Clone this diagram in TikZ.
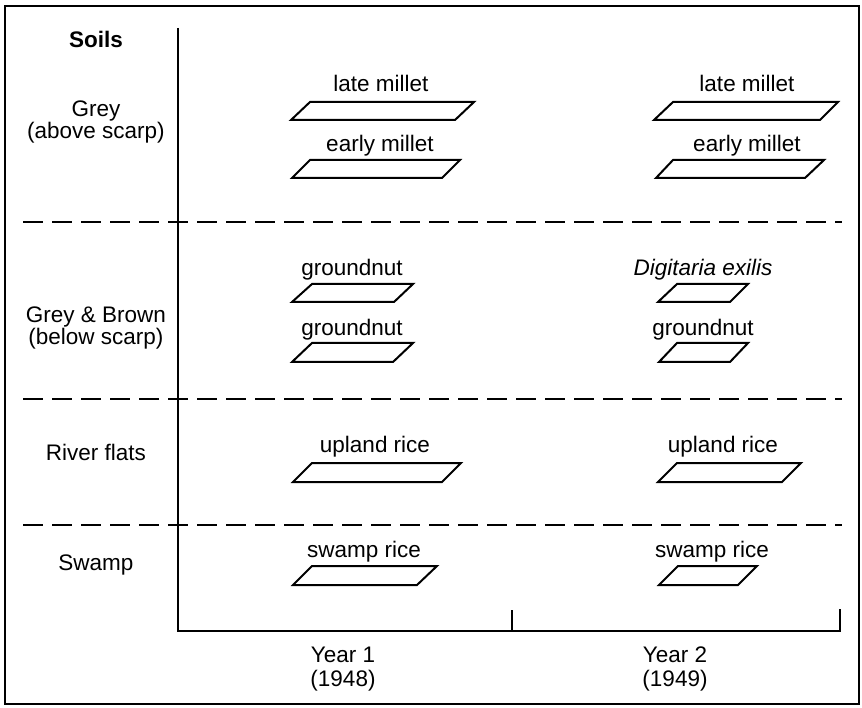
\documentclass[tikz,border=0pt]{standalone}
\usepackage{fontspec}
\setmainfont{Liberation Sans}
\begin{document}
\begin{tikzpicture}[x=1pt,y=-1pt,
  lbl/.style={anchor=base,inner sep=0pt,font=\fontsize{22.5}{26}\selectfont},
  field/.style={draw=black,line width=2pt,line join=miter},
  axisline/.style={draw=black,line width=2.4pt},
  sep/.style={draw=black,line width=1.5pt,dash pattern=on 20pt off 9pt}]
\useasboundingbox (0,0) rectangle (862,708);
% frame
\draw[line width=2pt] (5,6) rectangle (859,704);
% axes
\coordinate (atop) at (178,28);
\coordinate (aorg) at (178,631);
\coordinate (amid) at (512,631);
\coordinate (amidt) at (512,610);
\coordinate (aend) at (840,631);
\coordinate (aendt) at (840,609);
\draw[axisline] (atop) -- (aorg) -- (aend) -- (aendt);
\draw[axisline] (amid) -- (amidt);
% dashed separators
\foreach \yy/\nm in {222/sa,399/sb,525/sc}{
  \coordinate (\nm l) at (23,\yy);
  \coordinate (\nm r) at (842,\yy);
  \draw[sep] (\nm l) -- (\nm r);
}
% soil labels
\node[lbl,font=\fontsize{22.5}{26}\selectfont\bfseries] (soils) at (96,48) {Soils};
\node[lbl] (grey1) at (96,117) {Grey};
\node[lbl] (grey2) at (96,139) {(above scarp)};
\node[lbl] (gb1) at (96,323) {Grey \& Brown};
\node[lbl] (gb2) at (96,345) {(below scarp)};
\node[lbl] (river) at (96,460) {River flats};
\node[lbl] (swamp) at (96,570) {Swamp};
% year labels
\node[lbl] (y1a) at (343,662) {Year 1};
\node[lbl] (y1b) at (343,686) {(1948)};
\node[lbl] (y2a) at (675,662) {Year 2};
\node[lbl] (y2b) at (675,686) {(1949)};
% Year 1 fields
\draw[field] (291,120) -- (310,102) -- (474,102) -- (455,120) -- cycle;
\node[lbl] (lm1) at (381,92) {late millet};
\draw[field] (292,178) -- (310,160) -- (460,160) -- (442,178) -- cycle;
\node[lbl] (em1) at (380,152) {early millet};
\draw[field] (292,302) -- (312,284) -- (413,284) -- (394,302) -- cycle;
\node[lbl] (gn1) at (352,276) {groundnut};
\draw[field] (292,362) -- (312,343) -- (413,343) -- (393,362) -- cycle;
\node[lbl] (gn2) at (352,336) {groundnut};
\draw[field] (293,482) -- (312,463) -- (461,463) -- (442,482) -- cycle;
\node[lbl] (ur1) at (375,452) {upland rice};
\draw[field] (293,585) -- (312,566) -- (437,566) -- (417,585) -- cycle;
\node[lbl] (sr1) at (364,557) {swamp rice};
% Year 2 fields
\draw[field] (654,120) -- (673,102) -- (838,102) -- (820,120) -- cycle;
\node[lbl] (lm2) at (747,92) {late millet};
\draw[field] (656,178) -- (673,160) -- (824,160) -- (805,178) -- cycle;
\node[lbl] (em2) at (747,152) {early millet};
\draw[field] (658,302) -- (677,284) -- (748,284) -- (730,302) -- cycle;
\node[lbl,font=\fontsize{22.5}{26}\selectfont\itshape] (dg) at (703,276) {Digitaria exilis};
\draw[field] (659,362) -- (677,343) -- (748,343) -- (730,362) -- cycle;
\node[lbl] (gn3) at (703,336) {groundnut};
\draw[field] (658,482) -- (677,463) -- (801,463) -- (782,482) -- cycle;
\node[lbl] (ur2) at (723,452) {upland rice};
\draw[field] (659,585) -- (678,566) -- (757,566) -- (738,585) -- cycle;
\node[lbl] (sr2) at (712,557) {swamp rice};
\end{tikzpicture}
\end{document}
